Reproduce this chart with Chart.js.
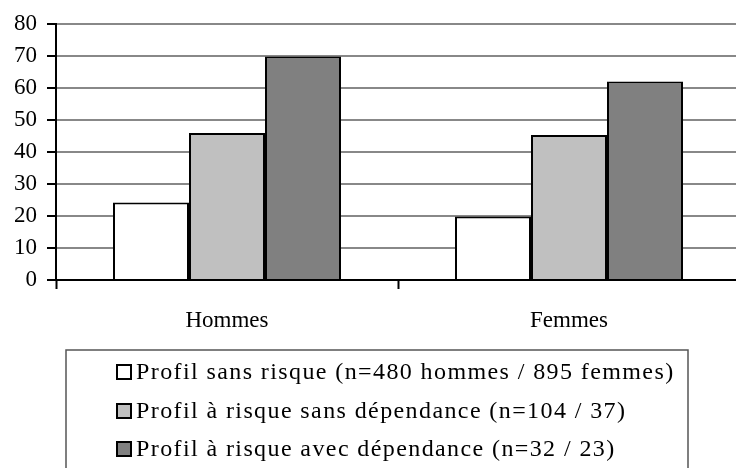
<!DOCTYPE html>
<html>
<head>
<meta charset="utf-8">
<script src="https://cdn.jsdelivr.net/npm/chart.js@4/dist/chart.umd.min.js"></script>
<style>
    html, body { margin: 0; padding: 0; background: #fff; overflow: hidden; }
    #wrap { width: 746px; height: 468px; }
</style>
</head>
<body>
<div id="wrap"><canvas id="profilChart" width="746" height="468"></canvas></div>
<script>
var categories = ["Hommes", "Femmes"];
var seriesLabels = [
    "Profil sans risque (n=480 hommes / 895 femmes)",
    "Profil à risque sans dépendance (n=104 / 37)",
    "Profil à risque avec dépendance (n=32 / 23)"
];
var sansRisque = [24.2, 19.8];
var risqueSansDependance = [45.9, 45.3];
var risqueAvecDependance = [69.8, 62.0];
var yTicks = [0, 10, 20, 30, 40, 50, 60, 70, 80];

var serif = "'Liberation Serif', 'Times New Roman', serif";

// boxed legend under the plot, as in the original figure
var boxedLegend = {
    id: "boxedLegend",
    afterDraw: function (chart) {
        var ctx = chart.ctx;
        ctx.save();
        ctx.strokeStyle = "#555";
        ctx.lineWidth = 1.5;
        ctx.strokeRect(66, 350, 622, 140);
        ctx.font = "24px " + serif;
        ctx.letterSpacing = "1.4px";
        ctx.textBaseline = "middle";
        ctx.fillStyle = "#000";
        var rows = [372, 411, 449];
        chart.data.datasets.forEach(function (ds, i) {
            var y = rows[i];
            ctx.fillStyle = ds.backgroundColor;
            ctx.fillRect(117, y - 7, 14, 14);
            ctx.strokeStyle = "#000";
            ctx.lineWidth = 2;
            ctx.strokeRect(117, y - 7, 14, 14);
            ctx.fillStyle = "#000";
            ctx.fillText(ds.label, 136, y + 1);
        });
        ctx.restore();
    }
};

var ctx = document.getElementById("profilChart").getContext("2d");

new Chart(ctx, {
    type: "bar",
    data: {
        labels: categories,
        datasets: [
            {
                label: seriesLabels[0],
                data: sansRisque,
                backgroundColor: "#ffffff",
                borderColor: "#000",
                borderWidth: 2,
            },
            {
                label: seriesLabels[1],
                data: risqueSansDependance,
                backgroundColor: "#c0c0c0",
                borderColor: "#000",
                borderWidth: 2,
            },
            {
                label: seriesLabels[2],
                data: risqueAvecDependance,
                backgroundColor: "#808080",
                borderColor: "#000",
                borderWidth: 2,
            },
        ],
    },
    options: {
        responsive: false,
        animation: false,
        devicePixelRatio: 1,
        layout: {
            padding: { top: 22, right: 6, bottom: 128, left: 0 },
        },
        datasets: {
            bar: { categoryPercentage: 2 / 3, barPercentage: 1 },
        },
        plugins: {
            legend: { display: false },
            tooltip: { enabled: false },
        },
        scales: {
            x: {
                grid: {
                    offset: true,
                    drawOnChartArea: false,
                    drawTicks: true,
                    tickLength: 9,
                    tickColor: "#000",
                    tickWidth: 2,
                },
                border: { display: true, color: "#000", width: 2 },
                ticks: {
                    color: "#000",
                    padding: 18,
                    font: { family: serif, size: 23 },
                },
                afterFit: function (scale) {
                    scale.height = 60;
                },
            },
            y: {
                min: 0,
                max: 80,
                afterBuildTicks: function (scale) {
                    scale.ticks = yTicks.map(function (v) {
                        return { value: v };
                    });
                },
                grid: {
                    color: "#888888",
                    lineWidth: 2,
                    tickColor: "#000",
                    tickWidth: 2,
                    tickLength: 9,
                },
                border: { display: true, color: "#000", width: 2 },
                ticks: {
                    color: "#000",
                    padding: 10,
                    font: { family: serif, size: 23 },
                },
                afterFit: function (scale) {
                    scale.width = 56;
                },
            },
        },
    },
    plugins: [boxedLegend],
});
</script>
</body>
</html>
